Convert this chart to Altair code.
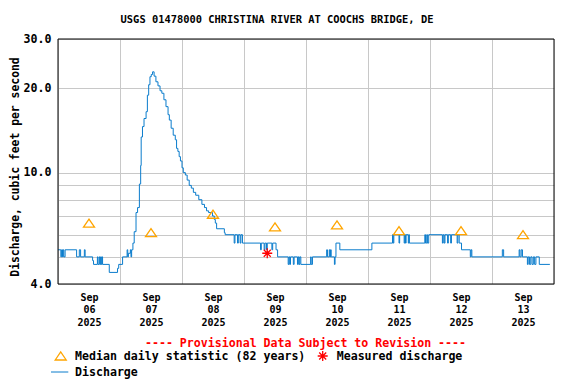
import altair as alt
import pandas as pd

FONT = "DejaVu Sans Mono"
BLUE = "#0a7ccc"
ORANGE = "#ffa500"
RED = "#ff0000"
GRID = "#c8c8c8"

title_text = "USGS 01478000 CHRISTINA RIVER AT COOCHS BRIDGE, DE"
y_title = "Discharge, cubic feet per second"
provisional_text = "---- Provisional Data Subject to Revision ----"
median_label = "Median daily statistic (82 years)"
measured_label = "Measured discharge"
discharge_label = "Discharge"

# Discharge breakpoints: hours after 2025-09-06 00:00, value (cfs), step-after
discharge_hours = [
    0.0, 1.1, 1.4, 1.75, 2.0, 2.25, 2.75, 7.2, 8.25, 8.75, 10.2, 10.5, 13.4, 13.75,
    15.25, 15.5, 16.0, 16.25, 16.5, 16.75, 17.0, 17.25, 19.85, 23.05, 23.5, 25.0,
    26.75, 27.0, 27.25, 28.0, 28.25, 28.5, 29.0, 29.5, 30.2, 30.8, 31.5, 32.0, 32.2,
    32.7, 33.3, 34.1, 34.6, 35.1, 35.6, 36.1, 36.6, 37.2, 37.9, 38.7, 39.5, 40.2,
    41.0, 41.8, 42.6, 43.1, 43.8, 44.6, 45.4, 45.9, 46.4, 46.9, 47.4, 48.0, 48.5,
    49.3, 50.0, 50.8, 51.6, 52.4, 53.3, 54.5, 55.7, 56.7, 57.5, 58.3, 59.8, 60.5,
    60.9, 61.4, 64.4, 64.7, 68.2, 68.5, 69.5, 69.8, 70.5, 70.8, 71.4, 78.4, 78.7,
    79.8, 80.1, 80.7, 81.0, 82.8, 83.1, 84.4, 85.0, 89.1, 89.4, 89.7, 90.0, 91.1,
    91.4, 92.7, 93.0, 93.3, 93.6, 94.0, 97.8, 98.0, 98.5, 104.0, 104.3, 105.0,
    105.25, 105.5, 105.75, 106.0, 107.0, 107.25, 107.6, 109.1, 121.5, 129.5, 129.75,
    130.0, 132.0, 132.25, 134.0, 134.25, 134.5, 134.75, 135.6, 135.85, 136.0, 142.0,
    142.25, 142.75, 143.0, 143.5, 148.8, 149.1, 149.5, 149.8, 150.8, 151.1, 152.0,
    152.3, 154.5, 154.8, 155.3, 156.2, 159.6, 159.9, 160.2, 172.0, 172.5, 178.5,
    178.8, 179.3, 179.8, 181.7, 182.0, 182.5, 183.0, 183.5, 184.0, 184.5, 185.0,
    186.3, 190.4,
]
discharge_cfs = [
    5.3, 5.0, 5.3, 5.0, 5.3, 5.0, 5.3, 5.0, 5.3, 5.0, 5.3, 5.0, 4.85, 4.7,
    5.0, 4.7, 5.0, 4.7, 5.0, 4.7, 5.0, 4.7, 4.4, 4.55, 4.7, 5.0,
    5.3, 5.0, 5.15, 5.3, 5.0, 5.3, 5.6, 6.15, 7.2, 7.5, 9.1, 10.6, 13.4,
    14.6, 15.6, 16.5, 18.9, 20.6, 22.0, 22.4, 22.9, 22.1, 21.1, 20.4, 19.6, 19.2,
    18.2, 17.2, 16.1, 15.4, 14.4, 13.6, 13.1, 12.2, 11.9, 11.4, 11.0, 10.4, 10.0,
    9.8, 9.4, 9.0, 8.8, 8.5, 8.3, 8.0, 7.7, 7.5, 7.3, 7.2, 7.0, 6.8,
    6.6, 6.3, 6.1, 6.0, 5.6, 6.0, 5.6, 6.0, 5.6, 6.0, 5.6, 5.3, 5.6,
    5.3, 5.6, 5.3, 5.6, 5.3, 5.6, 5.3, 5.0, 4.7, 5.0, 4.7, 5.0, 4.7,
    5.0, 4.7, 5.0, 4.7, 5.0, 4.7, 5.0, 4.7, 5.0, 5.3, 5.0, 5.3,
    5.0, 5.3, 5.0, 5.0, 4.7, 5.0, 5.6, 5.3, 5.6, 6.0, 5.6,
    6.0, 5.6, 6.0, 5.6, 6.0, 5.6, 6.0, 5.6, 6.0, 5.6, 6.0,
    5.6, 6.0, 5.6, 6.0, 5.6, 6.0, 5.6, 6.0, 5.6, 6.0, 5.6,
    6.0, 5.6, 6.0, 5.6, 5.3, 5.0, 5.3, 5.0, 5.3, 5.0, 5.3,
    5.0, 5.3, 5.0, 4.7, 5.0, 4.7, 5.0, 4.7, 5.0, 4.7, 5.0,
    4.7, 4.7,
]

median_days = [6, 7, 8, 9, 10, 11, 12, 13]
median_cfs = [6.6, 6.1, 7.1, 6.4, 6.5, 6.2, 6.2, 6.0]

measured_hours = [81.0]
measured_cfs = [5.15]

y_tick_values = [4, 5, 6, 7, 8, 9, 10, 20, 30]
y_label_values = [4, 10, 20, 30]
x_tick_days = [6, 7, 8, 9, 10, 11, 12, 13]

base = pd.Timestamp("2025-09-06")
df_q = pd.DataFrame({
    "time": base + pd.to_timedelta(discharge_hours, unit="h"),
    "cfs": discharge_cfs,
})
df_med = pd.DataFrame({
    "time": [pd.Timestamp(2025, 9, d, 12) for d in median_days],
    "cfs": median_cfs,
})
df_meas = pd.DataFrame({
    "time": base + pd.to_timedelta(measured_hours, unit="h"),
    "cfs": measured_cfs,
})
one = pd.DataFrame({"k": [0]})

W, H = 496, 245

x_scale = alt.Scale(domain=[alt.DateTime(year=2025, month=9, date=6),
                            alt.DateTime(year=2025, month=9, date=14)])
y_scale = alt.Scale(type="log", domain=[4, 30], nice=False)

label_list = ",".join(str(v) for v in y_label_values)
x_axis = alt.Axis(
    values=[alt.DateTime(year=2025, month=9, date=d) for d in x_tick_days],
    labelExpr="[timeFormat(datum.value, '%b'), timeFormat(datum.value, '%d'), timeFormat(datum.value, '%Y')]",
    labelOffset=31, ticks=False, domain=False, grid=True, gridColor=GRID,
    labelFont=FONT, labelFontWeight="bold", labelFontSize=10, labelLineHeight=12.7,
    labelPadding=8, labelBaseline="top", labelOverlap=False, labelFlush=False,
    labelBound=False, labelColor="black", title=None,
)
y_axis = alt.Axis(
    values=y_tick_values,
    labelExpr=f"indexof([{label_list}], datum.value) >= 0 ? format(datum.value, '.1f') : ''",
    ticks=False, domain=False, grid=True, gridColor=GRID,
    labelFont=FONT, labelFontWeight="bold", labelFontSize=11.6, labelPadding=7,
    labelColor="black", labelOverlap=False,
    title=y_title, titleFont=FONT, titleFontWeight="bold", titleFontSize=11.4,
    titleColor="black", titleX=-43, titleY=127.5, titleAngle=270,
    titleAlign="center", titleBaseline="middle",
)

line = alt.Chart(df_q).mark_line(interpolate="step-after", color=BLUE, strokeWidth=1).encode(
    x=alt.X("time:T", scale=x_scale, axis=x_axis),
    y=alt.Y("cfs:Q", scale=y_scale, axis=y_axis),
)

TRI = "M-1,0.727L0,-0.727L1,0.727Z"
STAR = "M-1,0L1,0M0,-1L0,1M-0.7,-0.7L0.7,0.7M-0.7,0.7L0.7,-0.7"

med = alt.Chart(df_med).mark_point(shape=TRI, filled=False, stroke=ORANGE, strokeWidth=1.3,
                                   size=121, opacity=1).encode(
    x=alt.X("time:T", scale=x_scale), y=alt.Y("cfs:Q", scale=y_scale))

meas = alt.Chart(df_meas).mark_point(shape=STAR, filled=False, stroke=RED, strokeWidth=1.3,
                                     size=100, opacity=1).encode(
    x=alt.X("time:T", scale=x_scale), y=alt.Y("cfs:Q", scale=y_scale))

frame = alt.Chart(one).mark_rect(fillOpacity=0, stroke="black", strokeWidth=1).encode(
    x=alt.value(0), x2=alt.value(W), y=alt.value(0), y2=alt.value(H))


def txt(s, x, y, size=11.6, color="black", align="left"):
    return alt.Chart(one).mark_text(text=s, font=FONT, fontWeight="bold", fontSize=size,
                                    color=color, align=align, baseline="middle").encode(
        x=alt.value(x), y=alt.value(y))


title = txt(title_text, 219, -19, size=10.4, align="center")
prov = txt(provisional_text, 247.5, 304.5, color=RED, align="center")
leg_tri = alt.Chart(one).mark_point(shape=TRI, filled=False, stroke=ORANGE, strokeWidth=1.3,
                                    size=121, opacity=1).encode(x=alt.value(2.7), y=alt.value(317))
leg_med = txt(median_label, 17, 317.5)
leg_star = alt.Chart(one).mark_point(shape=STAR, filled=False, stroke=RED, strokeWidth=1.3,
                                     size=100, opacity=1).encode(x=alt.value(264.7), y=alt.value(317))
leg_meas = txt(measured_label, 278.7, 317.5)
leg_line = alt.Chart(one).mark_rule(color=BLUE, strokeWidth=1).encode(
    x=alt.value(-7), x2=alt.value(10.3), y=alt.value(333))
leg_q = txt(discharge_label, 17, 333.5)

chart = alt.layer(
    line, med, meas, frame, title, prov, leg_tri, leg_med, leg_star, leg_meas, leg_line, leg_q
).properties(
    width=W, height=H,
    autosize=alt.AutoSizeParams(type="none"),
    padding={"left": 50, "top": 31, "right": 14, "bottom": 95},
).configure_view(strokeWidth=0).configure(background="white")

chart.save("out.html", embed_options={"renderer": "svg", "actions": False})
